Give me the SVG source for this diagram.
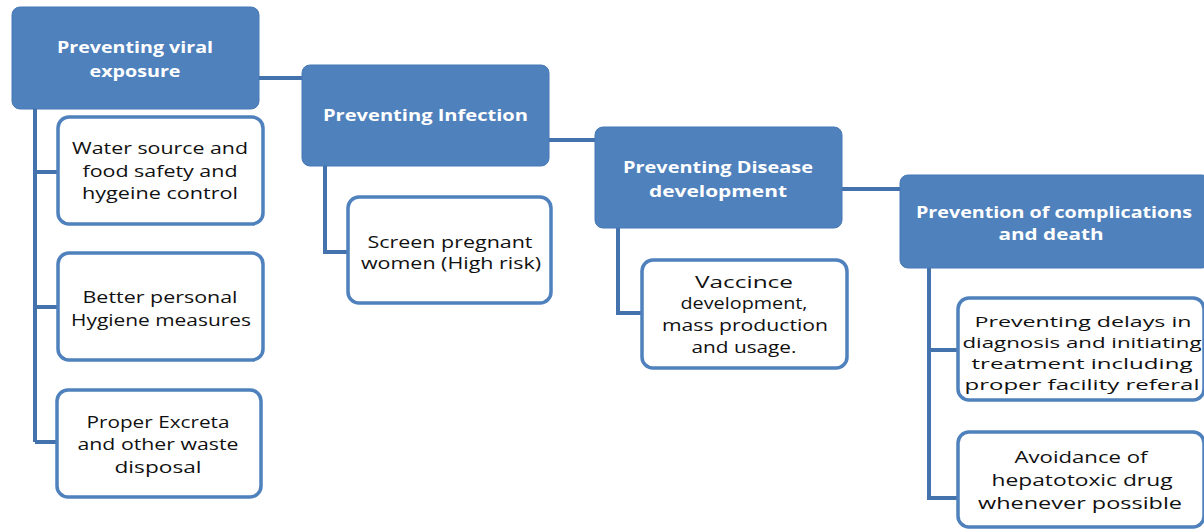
<svg xmlns="http://www.w3.org/2000/svg" width="1204" height="529" viewBox="0 0 1204 529">
<style>
.hd{fill:#4f81bd;stroke:#4779b5;stroke-width:1}
.bx{fill:#fff;stroke:#4f81bd;stroke-width:3.5}
.ht{font-family:"Open Sans","Liberation Sans",sans-serif;font-weight:bold;font-size:16.5px;fill:#fff;text-anchor:middle}
.bt{font-family:"Open Sans","Liberation Sans",sans-serif;font-size:16.5px;fill:#111;text-anchor:middle}
.sm{font-size:15px}
.cn{fill:none;stroke:#4472ac;stroke-width:4}
</style>
<rect width="1204" height="529" fill="#fff"/>
<g id="connectors">
<path class="cn" d="M259 78H302M549 140H596M842 189H900"/>
<path class="cn" d="M35 109V442M35 172H58M35 307H58M35 442H56"/>
<path class="cn" d="M325 166V252H348"/>
<path class="cn" d="M618 228V313H642"/>
<path class="cn" d="M929 268V498H958M929 350H958"/>
</g>
<g id="h1"><rect class="hd" x="12" y="7" width="247" height="102" rx="8"/>
<text class="ht"><tspan x="135" y="53" textLength="156" lengthAdjust="spacingAndGlyphs">Preventing viral</tspan><tspan x="135" y="77" textLength="91" lengthAdjust="spacingAndGlyphs">exposure</tspan></text></g>
<g id="h2"><rect class="hd" x="302" y="65" width="247" height="101" rx="8"/>
<text class="ht"><tspan x="425.5" y="121" textLength="205" lengthAdjust="spacingAndGlyphs">Preventing Infection</tspan></text></g>
<g id="h3"><rect class="hd" x="595" y="127" width="247" height="101" rx="8"/>
<text class="ht"><tspan x="718" y="173" textLength="190" lengthAdjust="spacingAndGlyphs">Preventing Disease</tspan><tspan x="718" y="197" textLength="138" lengthAdjust="spacingAndGlyphs">development</tspan></text></g>
<g id="h4"><rect class="hd" x="900" y="175" width="310" height="93" rx="8"/>
<text class="ht"><tspan x="1054" y="218" textLength="276" lengthAdjust="spacingAndGlyphs">Prevention of complications</tspan><tspan x="1051" y="240" textLength="105" lengthAdjust="spacingAndGlyphs">and death</tspan></text></g>
<g id="b1"><rect class="bx" x="58" y="117" width="205" height="107" rx="11"/>
<text class="bt"><tspan x="160" y="154" textLength="176" lengthAdjust="spacingAndGlyphs">Water source and</tspan><tspan x="160" y="177" textLength="155" lengthAdjust="spacingAndGlyphs">food safety and</tspan><tspan x="160" y="199" textLength="156" lengthAdjust="spacingAndGlyphs">hygeine control</tspan></text></g>
<g id="b2"><rect class="bx" x="58" y="253" width="205" height="107" rx="11"/>
<text class="bt"><tspan x="160" y="303" textLength="155" lengthAdjust="spacingAndGlyphs">Better  personal</tspan><tspan x="161" y="326" textLength="180" lengthAdjust="spacingAndGlyphs">Hygiene measures</tspan></text></g>
<g id="b3"><rect class="bx" x="57" y="390" width="204" height="107" rx="11"/>
<text class="bt"><tspan x="158" y="428" textLength="143" lengthAdjust="spacingAndGlyphs">Proper Excreta</tspan><tspan x="158" y="450" textLength="161" lengthAdjust="spacingAndGlyphs">and other waste</tspan><tspan x="158" y="473" textLength="87" lengthAdjust="spacingAndGlyphs">disposal</tspan></text></g>
<g id="b4"><rect class="bx" x="348" y="197" width="203" height="106" rx="11"/>
<text class="bt"><tspan x="450" y="248" textLength="165" lengthAdjust="spacingAndGlyphs">Screen pregnant</tspan><tspan x="451" y="269" textLength="180" lengthAdjust="spacingAndGlyphs">women (High risk)</tspan></text></g>
<g id="b5"><rect class="bx" x="642" y="260" width="205" height="108" rx="11"/>
<text class="bt"><tspan x="744" y="288" textLength="98" lengthAdjust="spacingAndGlyphs">Vaccince</tspan><tspan x="744" y="309" textLength="127" lengthAdjust="spacingAndGlyphs">development,</tspan><tspan x="745" y="331" textLength="166" lengthAdjust="spacingAndGlyphs">mass production</tspan><tspan x="744" y="353" textLength="105" lengthAdjust="spacingAndGlyphs">and usage.</tspan></text></g>
<g id="b6"><rect class="bx" x="958" y="298" width="246" height="102" rx="11"/>
<text class="bt sm"><tspan x="1083" y="327" textLength="217" lengthAdjust="spacingAndGlyphs">Preventing delays in</tspan><tspan x="1082" y="348" textLength="239" lengthAdjust="spacingAndGlyphs">diagnosis and initiating</tspan><tspan x="1082" y="369" textLength="221" lengthAdjust="spacingAndGlyphs">treatment  including</tspan><tspan x="1082" y="390" textLength="235" lengthAdjust="spacingAndGlyphs">proper facility referal</tspan></text></g>
<g id="b7"><rect class="bx" x="958" y="432" width="246" height="95" rx="11"/>
<text class="bt"><tspan x="1081" y="463" textLength="133" lengthAdjust="spacingAndGlyphs">Avoidance of</tspan><tspan x="1082" y="486" textLength="181" lengthAdjust="spacingAndGlyphs">hepatotoxic drug</tspan><tspan x="1080" y="509" textLength="204" lengthAdjust="spacingAndGlyphs">whenever  possible</tspan></text></g>
</svg>
